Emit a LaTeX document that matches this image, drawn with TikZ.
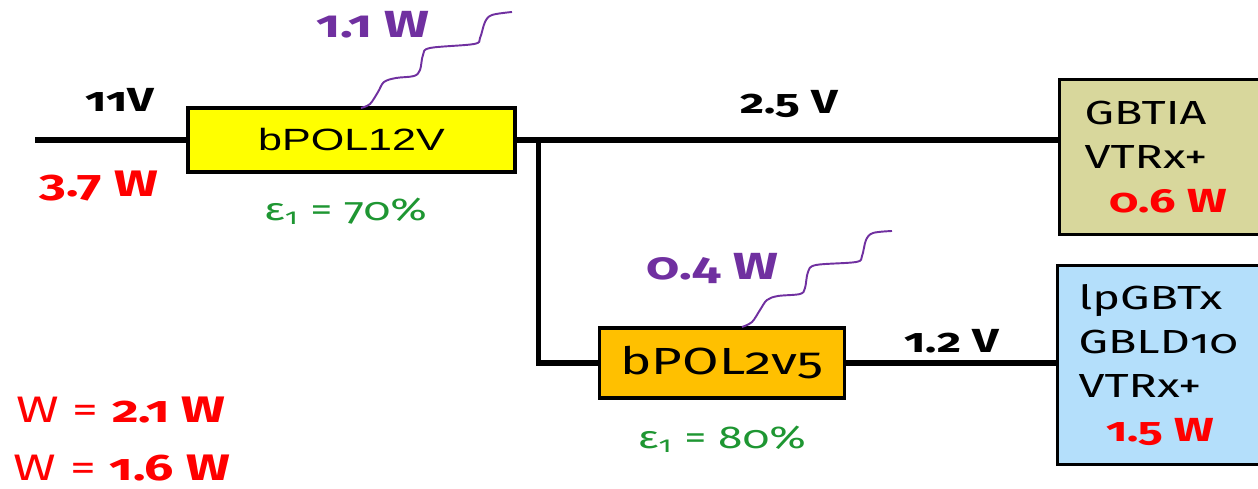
\documentclass[tikz,border=0pt]{standalone}
\usepackage{fontspec}
\setmainfont{Fira Sans}[Numbers=OldStyle,FakeStretch=1.4]
\newfontfamily\arialfont{Liberation Sans}[FakeStretch=1.4]
\usetikzlibrary{positioning}
\definecolor{polyellow}{RGB}{255,255,0}
\definecolor{polorange}{RGB}{255,192,0}
\definecolor{loadkhaki}{RGB}{216,215,156}
\definecolor{loadblue}{RGB}{180,223,251}
\definecolor{heatpurple}{RGB}{112,48,160}
\definecolor{effgreen}{RGB}{30,150,50}
\definecolor{pwrred}{RGB}{255,0,0}
\newcommand{\fsz}[1]{\fontsize{#1}{1.3\dimexpr#1pt\relax}\selectfont}

\begin{document}
\begin{tikzpicture}[x=0.02cm,y=-0.02cm,node distance=3mm and 5mm,
  wire/.style={line width=3.3pt},
  pol/.style={draw,line width=1.8pt,inner sep=0pt},
  load/.style={draw,line width=1.8pt,anchor=north west,align=left,font=\fontsize{19}{25}\selectfont},
  heat/.style={heatpurple,line width=1.1pt},
  volt/.style={font=\fsz{19}\bfseries},
  heatlbl/.style={heatpurple,font=\fsz{21.5}\bfseries},
  eff/.style={effgreen,font=\fsz{18}},
  pwr/.style={pwrred,font=\fsz{21}}]
\useasboundingbox (0,0) rectangle (1258,489);
\coordinate (in) at (35,140);
% converters
\node[pol,fill=polyellow,minimum width=6.54cm,minimum height=1.28cm,font=\arialfont\fsz{17.5}] (pol12) at (351.5,140) {bPOL12V};
\node[pol,fill=polorange,minimum width=4.9cm,minimum height=1.4cm,font=\fsz{21.5}] (pol25) at (722,363) {bPOL2v5};
% loads (right border lies past the page edge)
\node[load,fill=loadkhaki,minimum height=3.1cm,inner xsep=0.5cm,text width=3.2cm] (gbtia) at (1058,78)
  {GBTIA\\VTRx+\\\hspace*{0.5cm}{\color{pwrred}\bfseries 0.6 W}};
\node[load,fill=loadblue,minimum height=3.98cm,inner xsep=0.42cm,text width=3.4cm] (lpgbt) at (1056,264)
  {lpGBTx\\GBLD10\\VTRx+\\\hspace*{0.56cm}{\color{pwrred}\bfseries 1.5 W}};
% wires
\draw[wire] (in) -- (pol12);
\draw[wire] (pol12.east) -- (gbtia.west |- pol12.east);
\draw[wire] (pol12.east) ++(22,0) |- (pol25.west);
\draw[wire] (pol25.east) -- (lpgbt.west |- pol25.east);
% dissipated heat
\draw[heat] plot[smooth,tension=0.55] coordinates {(361,108) (370,104) (378,92) (384,82) (396,78) (414,76) (420,70) (423,55) (430,48) (474,44) (480,38) (485,22) (492,15) (512,12)};
\draw[heat] plot[smooth,tension=0.55] coordinates {(742,327) (752,322) (760,310) (767,300) (778,296) (800,294) (805,288) (808,272) (816,265) (856,262) (862,256) (866,240) (873,233) (892,231)};
% labels
\node[volt] (v11) at (120,100) {11V};
\node[pwr] (p37) at (99,186) {\bfseries 3.7 W};
\node[heatlbl] (h11) at (373,25) {1.1 W};
\node[eff,below=0.36cm of pol12,xshift=-0.12cm] (e70) {ε\textsubscript{1} = 70\%};
\node[volt] (v25) at (789,104) {2.5 V};
\node[heatlbl] (h04) at (712,268) {0.4 W};
\node[eff,below=0.4cm of pol25] (e80) {ε\textsubscript{1} = 80\%};
\node[volt] (v12) at (952,341) {1.2 V};
\node[pwr] (w21) at (121,410) {W = \textbf{2.1 W}};
\node[pwr] (w16) at (122,468) {W = \textbf{1.6 W}};
\end{tikzpicture}
\end{document}
